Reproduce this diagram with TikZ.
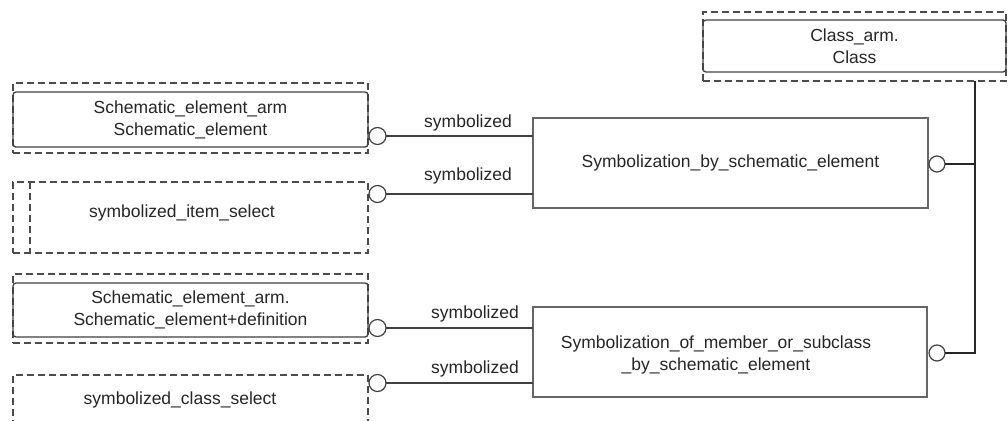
\documentclass[tikz,border=0pt]{standalone}
\usepackage{fontspec}
\setmainfont{Liberation Sans}
\begin{document}
\begin{tikzpicture}[x=1pt,y=-1pt,
 every node/.style={font=\fontsize{17.5}{22}\selectfont, text=black!85, inner sep=0pt, outer sep=0pt, align=center},
 entity/.style={draw=black!75, line width=1.3pt, rounded corners=3pt, minimum width=355pt},
 outerbox/.style={draw=black!70, line width=1.2pt, dash pattern=on 7pt off 4pt, minimum width=355pt},
 selbox/.style={draw=black!70, line width=1.2pt, dash pattern=on 7pt off 4pt},
 relbox/.style={draw=black!60, line width=1.1pt},
 ring/.style={circle, draw=black!75, line width=1.2pt, fill=white, minimum size=17pt},
 link/.style={draw=black!75, line width=1.2pt},
 trunk/.style={draw=black!85, line width=2pt},
 role/.style={font=\fontsize{17.5}{22}\selectfont}
]
\useasboundingbox (0,0) rectangle (1008,420);
\clip (0,0) rectangle (1008,420);
\fill[white] (0,0) rectangle (1008,420);

% Class entity (top right)
\node[outerbox, minimum width=303pt, minimum height=69pt] (Gout) at (854.5,46.5) {};
\node[entity, minimum width=303pt, minimum height=52pt] (G) at (854.5,46) {Class\_arm.\\Class};

% Left column
\node[outerbox, minimum height=70pt] (Aout) at (190.5,118) {};
\node[entity, minimum height=55pt] (A) at (190.5,119.5) {Schematic\_element\_arm\\Schematic\_element};

\node[selbox, minimum width=355pt, minimum height=71pt] (B) at (190.5,217.5) {};
\node (Btxt) at (182,213) {symbolized\_item\_select};
\draw[selbox] ([xshift=17pt]B.north west) -- ([xshift=17pt]B.south west);

\node[outerbox, minimum height=69pt] (Cout) at (190.5,308.5) {};
\node[entity, minimum height=54pt] (C) at (190.5,310) {Schematic\_element\_arm.\\Schematic\_element+definition};

\node[selbox, minimum width=355pt, minimum height=70pt] (D) at (190.5,410) {};
\node (Dtxt) at (180,400) {symbolized\_class\_select};

% Relationship boxes
\node[relbox, minimum width=395pt, minimum height=90pt] (E) at (730.5,163) {Symbolization\_by\_schematic\_element};
\node[relbox, minimum width=394pt, minimum height=90pt] (F) at (730,352) {};
\node (Ftxt) at (716,355) {Symbolization\_of\_member\_or\_subclass\\\_by\_schematic\_element};

% Rings
\node[ring] (rA) at (377.5,136) {};
\node[ring] (rB) at (377.5,194) {};
\node[ring] (rC) at (377.5,328) {};
\node[ring] (rD) at (377.5,383) {};
\node[ring, minimum size=16pt] (rE) at (937,164) {};
\node[ring, minimum size=16pt] (rF) at (937,353) {};

% Connectors
\draw[link] (rA.east) -- (rA.east -| E.west);
\draw[link] (rB.east) -- (rB.east -| E.west);
\draw[link] (rC.east) -- (rC.east -| F.west);
\draw[link] (rD.east) -- (rD.east -| F.west);

\node[role] (lA) at (468,123) {symbolized};
\node[role] (lB) at (468,176) {symbolized};
\node[role] (lC) at (475,314) {symbolized};
\node[role] (lD) at (475,369) {symbolized};

% Trunk to Class
\coordinate (tx) at (975,0);
\draw[trunk] (Gout.south -| tx) -- (rF.east -| tx) -- (rF.east);
\draw[trunk, line width=1.6pt] (rE.east) -- (rE.east -| tx);
\end{tikzpicture}
\end{document}
